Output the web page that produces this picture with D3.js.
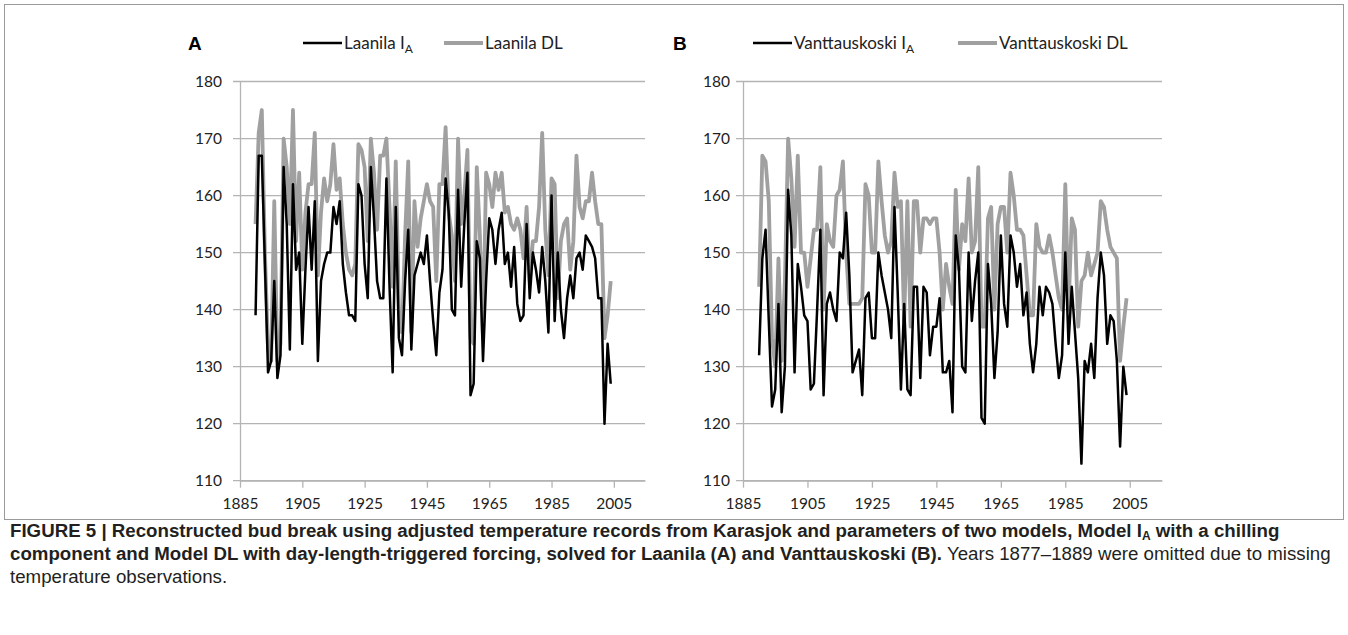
<!DOCTYPE html>
<html>
<head>
<meta charset="utf-8">
<script src="https://cdn.jsdelivr.net/npm/d3@7"></script>
<style>
  body { margin: 0; background: #fff; }
  svg { display: block; }
</style>
</head>
<body>
<div id="canvas"></div>
<script>
// years 1890-2004 (1877-1889 omitted)
const years = d3.range(1890, 2005);

const laanilaIA = [139,167,167,148,129,131,145,128,132,165, 155,133,162,147,150,134,147,158,147,159,
  131,145,148,150,150,158,155,159,148,143, 139,139,138,162,160,148,142,165,156,145,
  142,142,163,144,129,158,135,132,145,154, 133,146,148,150,148,153,145,138,132,143,
  147,163,157,140,139,161,144,155,164,125, 127,152,149,131,145,156,154,148,154,157,
  148,150,144,151,141,138,139,155,142,150, 147,143,151,145,136,160,138,150,140,135,
  142,146,142,149,150,147,153,152,151,149, 142,142,120,134,127];

const laanilaDL = [155,171,175,150,133,131,159,131,134,170, 165,155,175,152,164,147,157,162,162,171,
  146,157,163,159,162,169,161,163,155,150, 147,146,148,169,168,165,152,170,164,154,
  167,167,170,158,144,166,140,136,153,166, 136,159,151,156,159,162,159,158,145,162,
  162,172,157,153,145,170,155,160,168,135, 134,165,153,135,164,162,158,164,161,164,
  157,158,155,154,156,154,149,158,145,152, 152,158,171,154,146,163,162,142,152,155,
  156,147,152,167,158,156,159,159,164,159, 155,155,135,139,145];

const vanttIA = [132,149,154,138,123,126,141,122,130,161, 153,129,148,144,139,138,126,127,140,154,
  125,141,143,140,138,150,149,157,146,129, 131,133,125,142,143,135,135,150,146,143,
  140,135,158,143,126,141,126,125,144,144, 128,144,143,132,137,137,142,129,129,131,
  122,153,147,130,129,150,138,145,150,121, 120,148,141,128,136,153,141,137,153,150,
  144,148,139,143,134,129,134,144,139,144, 143,141,134,128,132,150,134,144,136,128,
  113,131,129,134,128,142,150,146,134,139, 138,131,116,130,125];

const vanttDL = [144,167,166,159,135,130,149,131,145,170, 163,151,167,150,150,144,149,154,154,165,
  140,155,152,151,160,161,166,150,141,141, 141,141,142,162,160,150,150,166,159,153,
  150,152,164,158,159,138,159,137,159,159, 150,156,156,155,156,156,150,140,148,144,
  141,161,147,155,152,163,150,152,165,137, 137,156,158,140,155,158,158,150,164,160,
  154,154,153,146,139,139,155,151,150,150, 153,150,146,142,140,162,140,156,154,137,
  145,146,150,146,148,150,159,158,154,151, 150,149,131,137,142];

const xTicks = [1885, 1905, 1925, 1945, 1965, 1985, 2005];
const yTicks = [110, 120, 130, 140, 150, 160, 170, 180];

const panels = [
  { letter: "A", site: "Laanila", ia: laanilaIA, dl: laanilaDL,
    left: 240, right: 645, letterX: 188, legX: 303, greyX: 141, labelEnd: 222 },
  { letter: "B", site: "Vanttauskoski", ia: vanttIA, dl: vanttDL,
    left: 743, right: 1162, letterX: 673, legX: 753, greyX: 205, labelEnd: 730 }
];

const width = 1348;
const height = 635;
const plotTop = 81.5, plotBottom = 480.7;
const black = "#000000", grey = "#a0a0a0", gridCol = "#b4b4b4";
const tickFont = "Lato, 'Open Sans', sans-serif";

const svg = d3.select("#canvas").append("svg")
  .attr("width", width)
  .attr("height", height);

// figure frame
svg.append("rect")
  .attr("x", 4.5).attr("y", 4.5)
  .attr("width", 1339).attr("height", 515)
  .attr("fill", "none")
  .attr("stroke", "#9a9a9a")
  .attr("stroke-width", 1);

const y = d3.scaleLinear().domain([110, 180]).range([plotBottom, plotTop]);

panels.forEach(p => {
  const x = d3.scaleLinear().domain([1885, 2015]).range([p.left, p.right]);
  const g = svg.append("g");

  // gridlines
  g.selectAll("line.grid").data(yTicks).enter().append("line")
    .attr("class", "grid")
    .attr("x1", p.left - 7).attr("x2", p.right)
    .attr("y1", d => y(d)).attr("y2", d => y(d))
    .attr("stroke", gridCol).attr("stroke-width", 1.3);

  // y axis
  const yAxis = g.append("g")
    .attr("transform", `translate(${p.left},0)`)
    .call(d3.axisLeft(y).tickValues(yTicks).tickSize(0).tickPadding(p.left - p.labelEnd));
  yAxis.select(".domain").attr("stroke", gridCol).attr("stroke-width", 1.3);
  yAxis.selectAll("text")
    .style("font-family", tickFont).style("font-size", "15.5px").attr("fill", "#222");

  // x axis
  const xAxis = g.append("g")
    .attr("transform", `translate(0,${plotBottom})`)
    .call(d3.axisBottom(x).tickValues(xTicks).tickFormat(d3.format("d"))
      .tickSizeInner(7).tickSizeOuter(0).tickPadding(10));
  xAxis.select(".domain").attr("stroke", gridCol).attr("stroke-width", 1.3);
  xAxis.selectAll(".tick line").attr("stroke", gridCol).attr("stroke-width", 1.3);
  xAxis.selectAll("text")
    .style("font-family", tickFont).style("font-size", "15.5px").attr("fill", "#222");

  const line = d3.line()
    .x((d, i) => x(years[i]))
    .y(d => y(d));

  g.append("path").datum(p.dl)
    .attr("d", line).attr("fill", "none")
    .attr("stroke", grey).attr("stroke-width", 3.8)
    .attr("stroke-linejoin", "round");

  g.append("path").datum(p.ia)
    .attr("d", line).attr("fill", "none")
    .attr("stroke", black).attr("stroke-width", 2.5)
    .attr("stroke-linejoin", "round");

  // panel letter
  g.append("text")
    .attr("x", p.letterX).attr("y", 50)
    .style("font-family", "'Liberation Sans', Arial, sans-serif")
    .style("font-size", "19px").style("font-weight", "bold")
    .text(p.letter);

  // legend
  const leg = g.append("g").attr("transform", `translate(${p.legX},43)`);
  leg.append("line").attr("x1", 0).attr("x2", 39)
    .attr("stroke", black).attr("stroke-width", 2.5);
  const t1 = leg.append("text").attr("x", 41).attr("y", 6)
    .style("font-family", tickFont).style("font-size", "17px").attr("fill", "#222");
  t1.append("tspan").text(p.site + " I");
  t1.append("tspan").attr("dy", 4).style("font-size", "12px").text("A");

  leg.append("line").attr("x1", p.greyX).attr("x2", p.greyX + 39)
    .attr("stroke", grey).attr("stroke-width", 3.8);
  leg.append("text").attr("x", p.greyX + 41).attr("y", 6)
    .style("font-family", tickFont).style("font-size", "17px").attr("fill", "#222")
    .text(p.site + " DL");
});

// caption
const cap = svg.append("text")
  .style("font-family", "'Liberation Sans', Arial, sans-serif")
  .style("font-size", "18.7px")
  .attr("fill", "#231f20");

const l1 = cap.append("tspan").attr("x", 10).attr("y", 537).style("font-weight", "bold");
l1.append("tspan").text("FIGURE 5 | Reconstructed bud break using adjusted temperature records from Karasjok and parameters of two models, Model I");
l1.append("tspan").attr("dy", 3).style("font-size", "12px").text("A");
l1.append("tspan").attr("dy", -3).text(" with a chilling");

const l2 = cap.append("tspan").attr("x", 10).attr("y", 560);
l2.append("tspan").style("font-weight", "bold")
  .text("component and Model DL with day-length-triggered forcing, solved for Laanila (A) and Vanttauskoski (B).");
l2.append("tspan").text(" Years 1877\u20131889 were omitted due to missing");

cap.append("tspan").attr("x", 10).attr("y", 583).text("temperature observations.");
</script>
</body>
</html>
